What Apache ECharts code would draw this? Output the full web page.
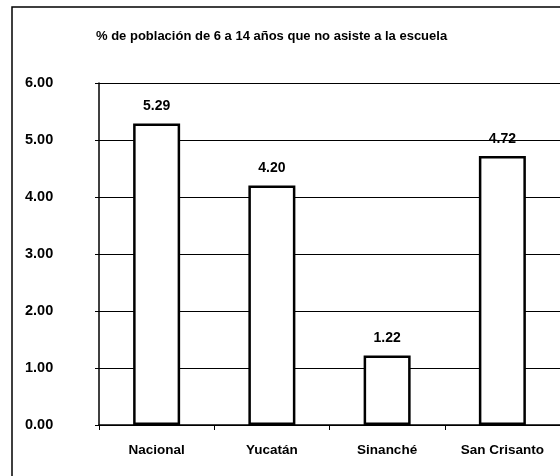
<!DOCTYPE html>
<html>
<head>
<meta charset="utf-8">
<script src="https://cdn.jsdelivr.net/npm/echarts@6/dist/echarts.min.js"></script>
<style>
html,body{margin:0;padding:0;background:#fff;}
#c{width:560px;height:476px;}
</style>
</head>
<body>
<div id="c"></div>
<script>
const titleText = "% de población de 6 a 14 años que no asiste a la escuela";
const categories = ["Nacional", "Yucatán", "Sinanché", "San Crisanto"];
const values = [5.29, 4.20, 1.22, 4.72];
const yMin = 0, yMax = 6, yStep = 1;

const FONT = 'Liberation Sans, Arial, sans-serif';
const chart = echarts.init(document.getElementById('c'), null, {renderer: 'canvas'});
chart.setOption({
  animation: false,
  backgroundColor: '#fff',
  title: {
    text: titleText,
    left: 91, top: 25,
    textStyle: {fontFamily: FONT, fontSize: 13, fontWeight: 'bold', color: '#000'}
  },
  graphic: [{
    type: 'polyline',
    shape: {points: [[12, 480], [12, 7], [562, 7]]},
    style: {stroke: '#000', lineWidth: 1.5, fill: null},
    silent: true
  }],
  grid: {left: 99, right: 0, top: 83, bottom: 51, containLabel: false},
  xAxis: {
    type: 'category',
    data: categories,
    axisLine: {lineStyle: {color: '#000', width: 1.5}},
    axisTick: {show: true, length: 5, lineStyle: {color: '#000'}, alignWithLabel: false},
    axisLabel: {color: '#000', fontFamily: FONT, fontSize: 13.5, fontWeight: 'bold', margin: 18},
    splitLine: {show: false}
  },
  yAxis: {
    type: 'value',
    min: yMin, max: yMax, interval: yStep,
    axisLine: {show: true, lineStyle: {color: '#000', width: 1.5}},
    axisTick: {show: true, length: 4, lineStyle: {color: '#000'}},
    axisLabel: {
      color: '#000', fontFamily: FONT, fontSize: 14.5, fontWeight: 'bold',
      align: 'left', margin: 74,
      formatter: v => v.toFixed(2)
    },
    splitLine: {show: true, lineStyle: {color: '#000', width: 1.2}}
  },
  series: [{
    type: 'bar',
    data: values,
    barWidth: 47,
    itemStyle: {color: '#fff', borderColor: '#000', borderWidth: 2.5},
    label: {
      show: true, position: 'top', distance: 10,
      color: '#000', fontFamily: FONT, fontSize: 14, fontWeight: 'bold',
      formatter: p => p.value.toFixed(2)
    }
  }]
});
</script>
</body>
</html>
